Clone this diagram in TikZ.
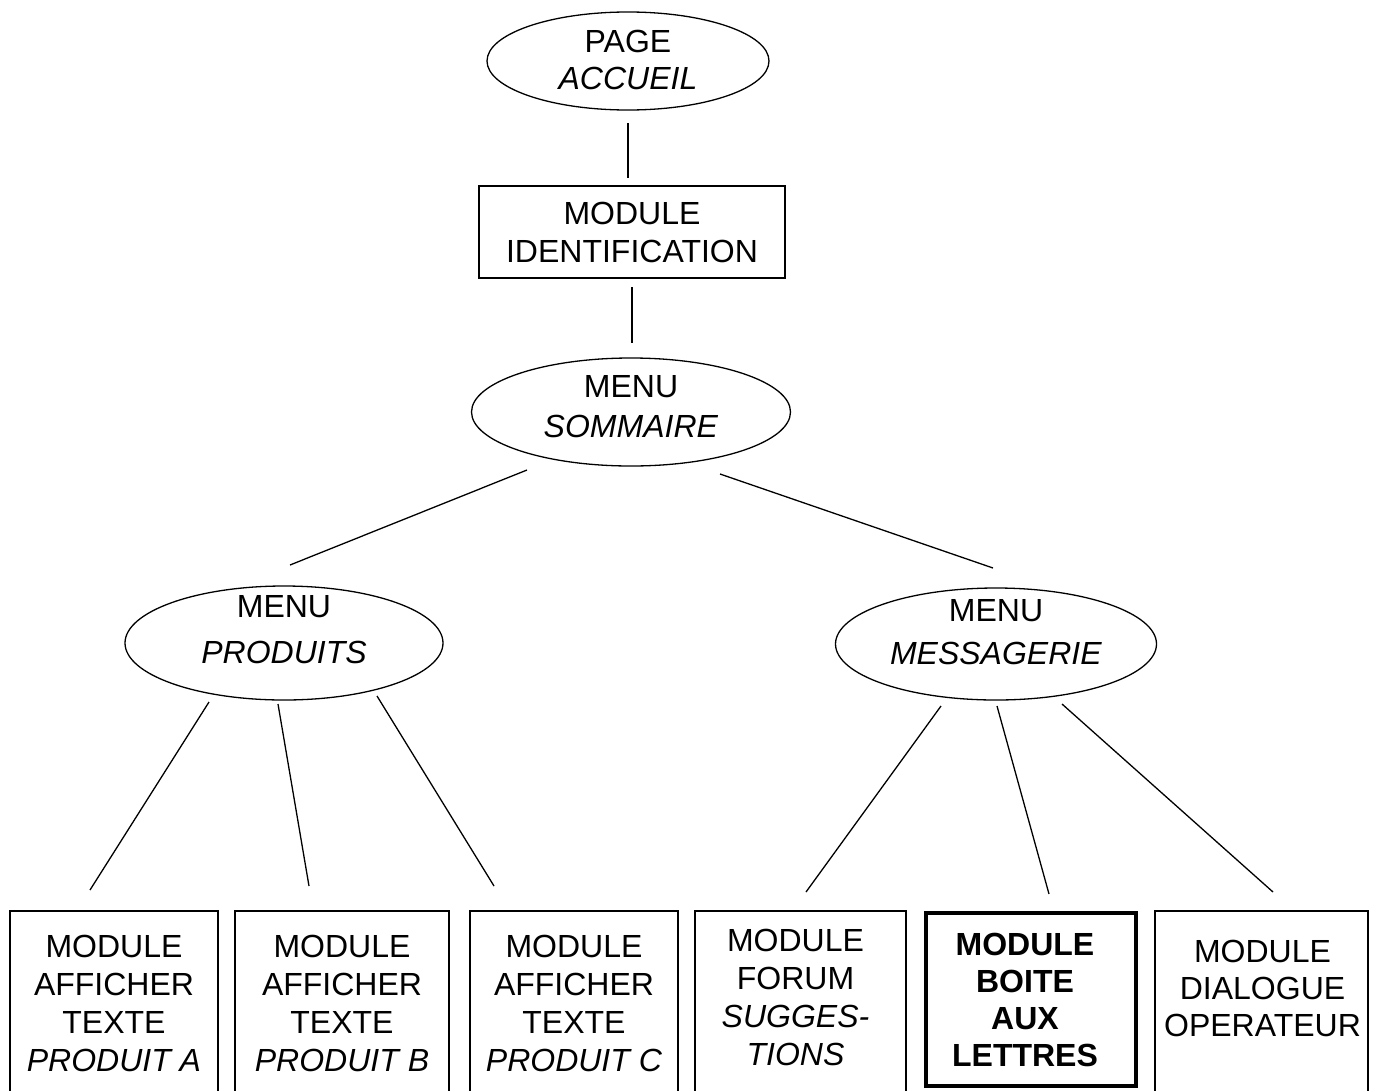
\documentclass[tikz,border=0pt]{standalone}
\usepackage{fontspec}
\setmainfont{Liberation Sans}
\usetikzlibrary{shapes.geometric,calc}
\begin{document}
\begin{tikzpicture}[x=1pt,y=-1pt,
  lbl/.style={font=\fontsize{32}{38}\selectfont, align=center, inner sep=0pt},
  oval/.style={draw, ellipse, line width=1.3pt, inner sep=0pt},
  modbox/.style={draw, rectangle, line width=1.3pt, inner sep=0pt, align=center, font=\fontsize{32}{38}\selectfont},
  mainbox/.style={modbox, line width=4pt, font=\fontsize{32}{37}\selectfont\bfseries},
  link/.style={line width=1.3pt}]
\fill[white] (0,0) rectangle (1378,1090);
\useasboundingbox (0,0) rectangle (1378,1090);

% ellipses
\node[oval, minimum width=282, minimum height=98] (acc) at (628,61) {};
\node[lbl, font=\fontsize{32}{37}\selectfont] (acct) at ($(acc.center)+(0,-1)$) {PAGE\\\textit{ACCUEIL}};

\node[modbox, minimum width=306, minimum height=92] (id) at (632,232) {MODULE\\IDENTIFICATION};

\node[oval, minimum width=319, minimum height=108] (som) at (631,412) {};
\node[lbl, font=\fontsize{32}{40}\selectfont] (somt) at ($(som.center)+(0,-5)$) {MENU\\\textit{SOMMAIRE}};

\node[oval, minimum width=318, minimum height=114] (prod) at (284,643) {};
\node[lbl, font=\fontsize{32}{46}\selectfont] (prodt) at ($(prod.center)+(0,-13)$) {MENU\\\textit{PRODUITS}};

\node[oval, minimum width=321, minimum height=112] (mes) at (996,644) {};
\node[lbl, font=\fontsize{32}{43}\selectfont] (mest) at ($(mes.center)+(0,-12)$) {MENU\\\textit{MESSAGERIE}};

% bottom boxes
\node[modbox, minimum width=208, minimum height=185] (b1) at (114,1003.5) {MODULE\\AFFICHER\\TEXTE\\\textit{PRODUIT A}};
\node[modbox, minimum width=214, minimum height=185] (b2) at (342,1003.5) {MODULE\\AFFICHER\\TEXTE\\\textit{PRODUIT B}};
\node[modbox, minimum width=208, minimum height=185] (b3) at (574,1003.5) {MODULE\\AFFICHER\\TEXTE\\\textit{PRODUIT C}};
\node[modbox, minimum width=211, minimum height=185] (b4) at (800.5,1003.5) {};
\node[lbl] (b4t) at ($(b4.center)+(-5,-6)$) {MODULE\\FORUM\\\textit{SUGGES-}\\\textit{TIONS}};
\node[mainbox, minimum width=210, minimum height=173] (b5) at (1031,999.5) {};
\node[lbl, font=\fontsize{32}{37}\selectfont\bfseries] (b5t) at ($(b5.center)+(-6,0)$) {MODULE\\BOITE\\AUX\\LETTRES};
\node[modbox, minimum width=213, minimum height=185] (b6) at (1261.5,1003.5) {};
\node[lbl, font=\fontsize{32}{37}\selectfont] (b6t) at ($(b6.center)+(1,-15)$) {MODULE\\DIALOGUE\\OPERATEUR};

% connectors
\draw[link] ($(acc.center)+(0,62)$) -- ($(id.center)+(-4,-54)$);
\draw[link] ($(id.center)+(0,55)$) -- ($(som.center)+(1,-69)$);
\draw[link] ($(som.center)+(-104,58)$) -- ($(prod.center)+(6,-78)$);
\draw[link] ($(som.center)+(89,62)$) -- ($(mes.center)+(-3,-76)$);
\draw[link] ($(prod.center)+(-75,59)$) -- ($(b1.center)+(-24,-113.5)$);
\draw[link] ($(prod.center)+(-6,61)$) -- ($(b2.center)+(-33,-117.5)$);
\draw[link] ($(prod.center)+(93,53)$) -- ($(b3.center)+(-80,-117.5)$);
\draw[link] ($(mes.center)+(-55,62)$) -- ($(b4.center)+(5.5,-111.5)$);
\draw[link] ($(mes.center)+(1,62)$) -- ($(b5.center)+(18,-105.5)$);
\draw[link] ($(mes.center)+(66,60)$) -- ($(b6.center)+(11.5,-111.5)$);
\end{tikzpicture}
\end{document}
